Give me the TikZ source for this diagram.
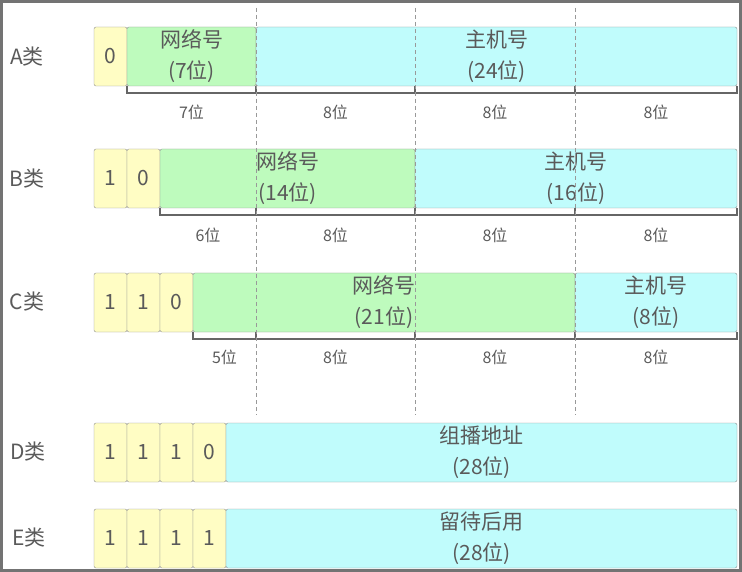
\documentclass[tikz,border=0pt]{standalone}
\usepackage{fontspec}
\setmainfont{Noto Sans CJK SC}
\definecolor{bityellow}{HTML}{FFFDC4}
\definecolor{netgreen}{HTML}{BEFBBD}
\definecolor{hostcyan}{HTML}{C0FCFC}
\definecolor{txtgray}{HTML}{5A5A5A}
\definecolor{edgegray}{HTML}{8E8E8E}
\tikzset{bit/.style = {draw=edgegray, fill=bityellow, rounded corners=2pt, rectangle, anchor=north west, inner sep=0pt, outer sep=0pt, minimum width=33pt, minimum height=59pt, text=txtgray, font=\fontsize{21}{31}\selectfont},
         field/.style = {bit, align=center},
         net/.style = {field, fill=netgreen},
         host/.style = {field, fill=hostcyan},
         cls/.style = {text=txtgray, font=\fontsize{21}{25}\selectfont},
         width/.style = {text=txtgray, font=\fontsize{16}{20}\selectfont},
         brace/.style = {draw=black!60, line width=1.2pt},
         guide/.style = {draw=black!40, dashed, dash pattern=on 4pt off 3pt, line width=0.9pt}}

\begin{document}
\begin{tikzpicture}[x=1pt,y=-1pt]
    \useasboundingbox(0,0)rectangle(742,572);
    % A
    \node[cls](A)at(27,57){A类};
    \node[bit](a1)at(94,27){0};
    \node[net, minimum width=129pt](anet)at(127,27){网络号\\(7位)};
    \node[host, minimum width=481pt](ahost)at(256,27){主机号\\(24位)};
    \draw[brace](127,86)--(127,93)-|(737,86);
    \foreach \x in {256,415,575} \draw[brace](\x,86)--(\x,93);
    \node[width](a7)at(191.5,112){7位};
    \foreach \x [count=\i] in {335.5,495,656} \node[width](a8-\i)at(\x,112){8位};
    % B
    \node[cls](B)at(27,179){B类};
    \node[bit](b1)at(94,149){1};
    \node[bit](b2)at(127,149){0};
    \node[net, minimum width=255pt](bnet)at(160,149){网络号\\(14位)};
    \node[host, minimum width=322pt](bhost)at(415,149){主机号\\(16位)};
    \draw[brace](160,208)--(160,215)-|(737,208);
    \foreach \x in {256,415,575} \draw[brace](\x,208)--(\x,215);
    \node[width](b6)at(208,235){6位};
    \foreach \x [count=\i] in {335.5,495,656} \node[width](b8-\i)at(\x,235){8位};
    % C
    \node[cls](C)at(27,302){C类};
    \node[bit](c1)at(94,273){1};
    \node[bit](c2)at(127,273){1};
    \node[bit](c3)at(160,273){0};
    \node[net, minimum width=382pt](cnet)at(193,273){网络号\\(21位)};
    \node[host, minimum width=162pt](chost)at(575,273){主机号\\(8位)};
    \draw[brace](193,332)--(193,339)-|(737,332);
    \foreach \x in {256,415,575} \draw[brace](\x,332)--(\x,339);
    \node[width](c5)at(224.5,357){5位};
    \foreach \x [count=\i] in {335.5,495,656} \node[width](c8-\i)at(\x,357){8位};
    % dashed byte borders
    \foreach \x in {256,415,575} \draw[guide](\x,8)--(\x,415);
    % D
    \node[cls](D)at(28,452){D类};
    \node[bit](d1)at(94,423){1};
    \node[bit](d2)at(127,423){1};
    \node[bit](d3)at(160,423){1};
    \node[bit](d4)at(193,423){0};
    \node[host, minimum width=511pt](dhost)at(226,423){组播地址\\(28位)};
    % E
    \node[cls](E)at(29,538){E类};
    \node[bit](e1)at(94,509){1};
    \node[bit](e2)at(127,509){1};
    \node[bit](e3)at(160,509){1};
    \node[bit](e4)at(193,509){1};
    \node[host, minimum width=511pt](ehost)at(226,509){留待后用\\(28位)};
    % frame
    \draw[draw=black!55, line width=3pt](1.5,1.5)rectangle(740.5,570.5);
\end{tikzpicture}
\end{document}
